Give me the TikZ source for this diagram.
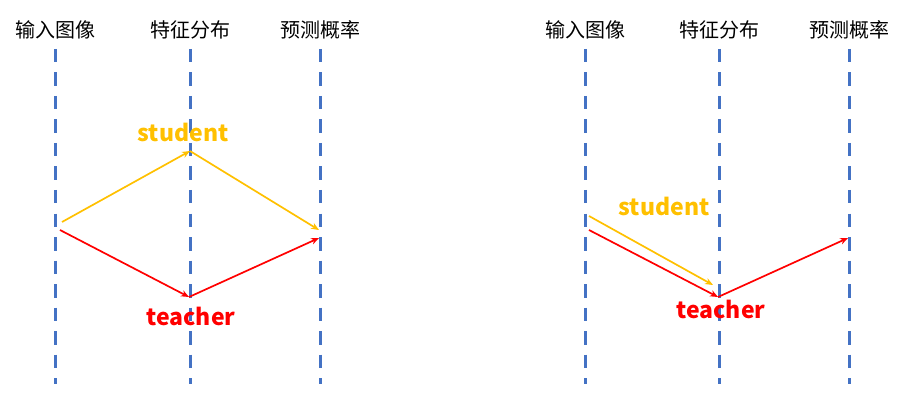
\documentclass[tikz,border=0pt]{standalone}
\usepackage{fontspec}
\newfontfamily\cjk{Noto Sans CJK SC}
\usetikzlibrary{arrows.meta}
\definecolor{lineblue}{HTML}{4472C4}
\definecolor{stuyellow}{HTML}{FFC000}
\definecolor{tchred}{HTML}{FF0000}
\tikzset{
  guide/.style={draw=lineblue, line width=3pt, dash pattern=on 13.5pt off 10pt},
  head/.style={font=\cjk\fontsize{20pt}{20pt}\selectfont, text=black, inner sep=0pt},
  lbl/.style={font=\cjk\bfseries\fontsize{23pt}{23pt}\selectfont, inner sep=0pt},
  sarr/.style={draw=stuyellow, line width=1.7pt, -{Stealth[length=8pt,width=6.5pt]}},
  tarr/.style={draw=tchred, line width=1.7pt, -{Stealth[length=8pt,width=6.5pt]}},
}
\begin{document}
\begin{tikzpicture}[x=1pt,y=-1pt]
\useasboundingbox (0,0) rectangle (899,414);
% headers
\node[head] (h1) at (55,30) {输入图像};
\node[head] (h2) at (190,30) {特征分布};
\node[head] (h3) at (320,30) {预测概率};
\node[head] (h4) at (585,30) {输入图像};
\node[head] (h5) at (719,30) {特征分布};
\node[head] (h6) at (849,30) {预测概率};
% guide lines
\foreach \x/\n in {55/1,190/2,320/3,585/4,719/5,849/6}{
  \coordinate (t\n) at (\x,49);
  \coordinate (b\n) at (\x,384);
  \draw[guide] (t\n) -- (b\n);
}
% left diagram
\coordinate (ls0) at (62,222);
\coordinate (ls1) at (190,151);
\coordinate (ls2) at (319,230);
\coordinate (lt0) at (60,230);
\coordinate (lt1) at (189,297);
\coordinate (lt2) at (319,238);
\draw[sarr] (ls0) -- (ls1);
\draw[sarr] (ls1) -- (ls2);
\draw[tarr] (lt0) -- (lt1);
\draw[tarr] (lt1) -- (lt2);
\node[lbl, text=stuyellow] (stuL) at (183,132) {student};
\node[lbl, text=tchred] (tchL) at (191,316) {teacher};
% right diagram
\coordinate (rs0) at (589,216);
\coordinate (rs1) at (713,285);
\coordinate (rt0) at (589,230);
\coordinate (rt1) at (718,297);
\coordinate (rt2) at (848,238);
\draw[sarr] (rs0) -- (rs1);
\draw[tarr] (rt0) -- (rt1);
\draw[tarr] (rt1) -- (rt2);
\node[lbl, text=stuyellow] (stuR) at (664,206) {student};
\node[lbl, text=tchred] (tchR) at (721,309) {teacher};
\end{tikzpicture}
\end{document}
